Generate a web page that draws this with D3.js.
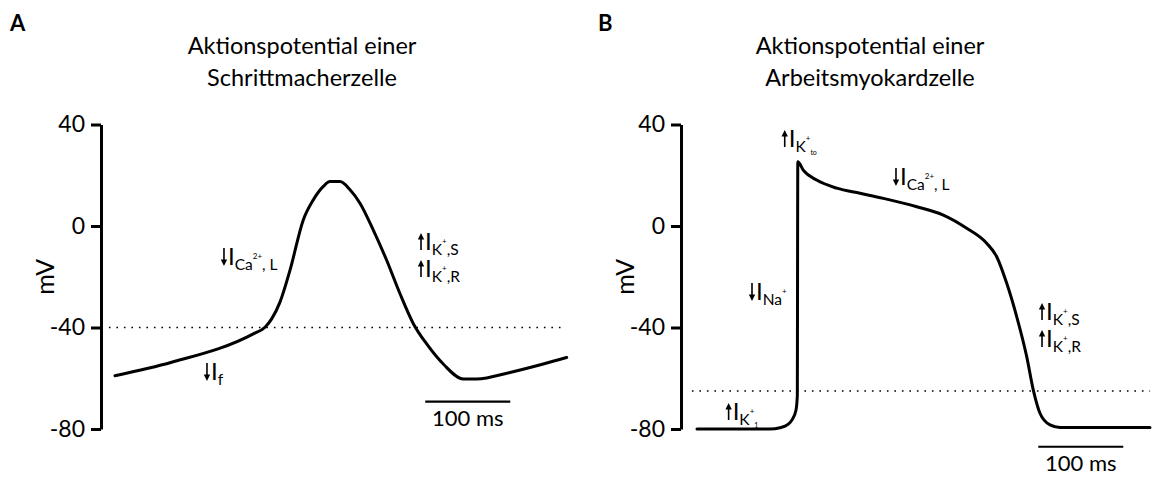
<!DOCTYPE html>
<html>
<head>
<meta charset="utf-8">
<script src="https://cdn.jsdelivr.net/npm/d3@7"></script>
<style>
  html, body { margin: 0; padding: 0; background: #fff; }
  svg { display: block; }
  text { font-family: Lato, "Open Sans", sans-serif; fill: #000; }
</style>
</head>
<body>
<svg id="chart" width="1153" height="477"></svg>
<script>
// ---------- data ----------
const yTicks = [40, 0, -40, -80];

// Panel A: pacemaker cell (time in ms, membrane potential in mV)
const pacemakerTime = [0, 66.7, 162.7, 176.5, 184.3, 194.1, 205.9, 221.5, 233.3, 245.1, 252.9, 264.7, 276.5, 288.2, 303.9, 319.6, 335.3, 351, 366.7, 386.2, 409.8, 425.5, 464.7, 503.9, 531.4];
const pacemakerMV   = [-59, -53.7, -42.5, -39.9, -36.6, -30, -17.4, 2.4, 10.3, 15.6, 17.5, 17.5, 14.3, 9, -1.6, -13.5, -26.7, -38.5, -46.5, -54.4, -60.3, -60.3, -57.7, -54.4, -51.8];
const pacemakerThreshold = -40;
const pacemakerThresholdSpan = [-16, 529];
const pacemakerScaleBar = [365, 465];
const pacemakerScaleBarMV = -69.2;

// Panel B: working myocardial cell
const myocardTime = [0, 86, 97.6, 107, 111.8, 116.5, 118, 118.6, 125, 140.8, 164.4, 191.8, 219.2, 258.5, 289.8, 317.3, 340.8, 352.6, 364.4, 376.1, 387.9, 395.6, 403.5, 415.3, 427, 532.9];
const myocardMV   = [-80, -80, -79.5, -78.2, -76.4, -72.5, -67, 25.3, 22, 18.1, 14.9, 12.9, 10.9, 7.6, 4.3, -0.9, -6.8, -12.1, -22.6, -35.7, -51.5, -64.6, -73.8, -78.4, -79.4, -79.4];
const myocardThreshold = -65;
const myocardThresholdSpan = [-6, 533];
const myocardScaleBar = [401.5, 501.5];
const myocardScaleBarMV = -87;

const titlesA = ["Aktionspotential einer", "Schrittmacherzelle"];
const titlesB = ["Aktionspotential einer", "Arbeitsmyokardzelle"];
const panelLabels = ["A", "B"];
const yLabel = "mV";
const scaleBarLabel = "100 ms";

// ion-current annotations: anchor in (ms, mV), arrow direction, parts of the label
const annotationsA = [
  { t: 123.5, mv: -15.4, dir: "down", parts: [["main", "I"], ["sub", "Ca"], ["sup", "2+"], ["sub", ", L"]] },
  { t: 103.5, mv: -60.7, dir: "down", parts: [["main", "I"], ["sub", "f"]] },
  { t: 355.3, mv: -9.5,  dir: "up",   parts: [["main", "I"], ["sub", "K"], ["sup", "+"], ["sub", ",S"]] },
  { t: 355.3, mv: -20.1, dir: "up",   parts: [["main", "I"], ["sub", "K"], ["sup", "+"], ["sub", ",R"]] }
];
const annotationsB = [
  { t: 98.5,  mv: 31.1,  dir: "up",   parts: [["main", "I"], ["sub", "K"], ["sup", "+"], ["tiny", "to"]] },
  { t: 229.4, mv: 16.2,  dir: "down", parts: [["main", "I"], ["sub", "Ca"], ["sup", "2+"], ["sub", ", L"]] },
  { t: 60,    mv: -29.2, dir: "down", parts: [["main", "I"], ["sub", "Na"], ["sup", "+"]] },
  { t: 401.2, mv: -37,   dir: "up",   parts: [["main", "I"], ["sub", "K"], ["sup", "+"], ["sub", ",S"]] },
  { t: 401.2, mv: -47.7, dir: "up",   parts: [["main", "I"], ["sub", "K"], ["sup", "+"], ["sub", ",R"]] },
  { t: 32.5,  mv: -76.5, dir: "up",   parts: [["main", "I"], ["sub", "K"], ["sup", "+"], ["tiny", "1"]] }
];

// ---------- drawing ----------
const svg = d3.select("#chart");

const roleStyle = {
  main:  { size: 24, off: 0 },
  sub:   { size: 15.5, off: 5 },
  sup:   { size: 8,  off: -6 },
  tiny:  { size: 7,  off: 8 }
};

function arrowPath(cx, base, dir) {
  const h = 17, hw = 3.2, hl = 6.5;
  if (dir === "down") {
    const top = base - h, tip = base + 1;
    return `M${cx - 0.8},${top}H${cx + 0.8}V${tip - hl}H${cx + hw}L${cx},${tip}L${cx - hw},${tip - hl}H${cx - 0.8}Z`;
  } else {
    const tip = base - h, bot = base;
    return `M${cx - 0.8},${bot}H${cx + 0.8}V${tip + hl}H${cx + hw}L${cx},${tip}L${cx - hw},${tip + hl}H${cx - 0.8}Z`;
  }
}

function drawPanel(cfg) {
  const g = svg.append("g");
  const y = d3.scaleLinear().domain([-80, 40]).range([429, 124.5]);
  const x = d3.scaleLinear().domain([0, 100]).range([cfg.x0, cfg.x0 + 85]);

  // panel label
  g.append("text").attr("x", cfg.labelX).attr("y", 31)
    .attr("font-size", 22).attr("font-weight", 700).text(cfg.label);

  // title
  g.append("text").attr("text-anchor", "middle").attr("font-size", 23.5)
    .selectAll("tspan").data(cfg.titles).join("tspan")
    .attr("x", cfg.titleX).attr("y", (d, i) => 54 + i * 32).text(d => d);

  // y axis
  const axis = d3.axisLeft(y).tickValues(yTicks).tickFormat(d => String(d))
    .tickSize(10).tickSizeOuter(0).tickPadding(6);
  const ga = g.append("g").attr("transform", `translate(${cfg.axisX},0)`).call(axis);
  ga.select(".domain").attr("stroke", "#000").attr("stroke-width", 3);
  ga.selectAll(".tick line").attr("stroke", "#000").attr("stroke-width", 3);
  ga.selectAll(".tick text").attr("font-family", "Lato, sans-serif").attr("font-size", 23).attr("fill", "#000");

  g.append("text").attr("transform", `translate(${cfg.axisX - 47},${(y(0) + y(-40)) / 2}) rotate(-90)`)
    .attr("text-anchor", "middle").attr("font-size", 25).text(yLabel);

  // threshold dotted line
  g.append("line")
    .attr("x1", x(cfg.thrSpan[0])).attr("x2", x(cfg.thrSpan[1]))
    .attr("y1", y(cfg.thr)).attr("y2", y(cfg.thr))
    .attr("stroke", "#000").attr("stroke-width", 1.6)
    .attr("stroke-dasharray", "1.6,5.9");

  // trace
  const pts = cfg.time.map((t, i) => [t, cfg.mv[i]]);
  const line = d3.line().x(d => x(d[0])).y(d => y(d[1])).curve(d3.curveMonotoneX);
  g.append("path").attr("d", line(pts)).attr("fill", "none")
    .attr("stroke", "#000").attr("stroke-width", 3).attr("stroke-linejoin", "round").attr("stroke-linecap", "round");

  // scale bar
  g.append("line")
    .attr("x1", x(cfg.bar[0])).attr("x2", x(cfg.bar[1]))
    .attr("y1", y(cfg.barMV)).attr("y2", y(cfg.barMV))
    .attr("stroke", "#000").attr("stroke-width", 2.2);
  g.append("text").attr("x", (x(cfg.bar[0]) + x(cfg.bar[1])) / 2).attr("y", y(cfg.barMV) + 24)
    .attr("text-anchor", "middle").attr("font-size", 22).text(scaleBarLabel);

  // annotations
  cfg.ann.forEach(a => {
    const ax = x(a.t), ay = y(a.mv);
    g.append("path").attr("d", arrowPath(ax + 4, ay, a.dir)).attr("fill", "#000");
    const txt = g.append("text").attr("x", ax + 8).attr("y", ay);
    let prev = 0;
    a.parts.forEach(([role, s]) => {
      const st = roleStyle[role];
      txt.append("tspan").attr("font-size", st.size).attr("dy", st.off - prev).text(s);
      prev = st.off;
    });
  });
}

drawPanel({ label: panelLabels[0], labelX: 10, titles: titlesA, titleX: 302, axisX: 101, x0: 115,
  time: pacemakerTime, mv: pacemakerMV, thr: pacemakerThreshold, thrSpan: pacemakerThresholdSpan,
  bar: pacemakerScaleBar, barMV: pacemakerScaleBarMV, ann: annotationsA });

drawPanel({ label: panelLabels[1], labelX: 598, titles: titlesB, titleX: 870, axisX: 681, x0: 697,
  time: myocardTime, mv: myocardMV, thr: myocardThreshold, thrSpan: myocardThresholdSpan,
  bar: myocardScaleBar, barMV: myocardScaleBarMV, ann: annotationsB });
</script>
</body>
</html>
